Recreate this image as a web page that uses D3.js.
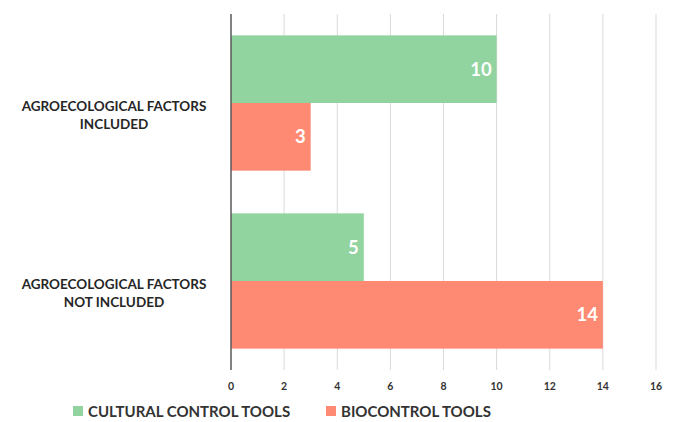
<!DOCTYPE html>
<html>
<head>
<meta charset="utf-8">
<script src="https://cdn.jsdelivr.net/npm/d3@7"></script>
<style>
  body { margin: 0; background: #fff; }
  svg text { font-family: Lato, "Open Sans", sans-serif; font-weight: bold; }
</style>
</head>
<body>
<svg id="chart" width="675" height="422"></svg>
<script>
//chart data
const categories = ["AGROECOLOGICAL FACTORS|INCLUDED", "AGROECOLOGICAL FACTORS|NOT INCLUDED"];
const seriesNames = ["CULTURAL CONTROL TOOLS", "BIOCONTROL TOOLS"];
const culturalValues = [10, 5];
const biocontrolValues = [3, 14];
const xTicks = [0, 2, 4, 6, 8, 10, 12, 14, 16];
const colors = ["#92d4a0", "#ff8a73"];

//plot area
const margin = { top: 14, right: 19, bottom: 52, left: 231 };
const width = 675 - margin.left - margin.right;
const height = 422 - margin.top - margin.bottom;

const svg = d3.select("#chart")
    .append("g")
    .attr("transform", `translate(${margin.left},${margin.top})`);

const x = d3.scaleLinear().domain([0, 16]).range([0, width]);
const y = d3.scaleBand().domain(categories).range([0, height]).paddingInner(0.24).paddingOuter(0.12);
const ySub = d3.scaleBand().domain(seriesNames).range([0, y.bandwidth()]);

//gridlines
svg.selectAll(".grid")
    .data(xTicks.slice(1))
    .join("line")
    .attr("x1", d => x(d)).attr("x2", d => x(d))
    .attr("y1", 0).attr("y2", height)
    .attr("stroke", "#d9d9d9")
    .attr("stroke-width", 1);

//bars
const rows = categories.map((c, i) => ({
    cat: c,
    vals: [culturalValues[i], biocontrolValues[i]]
}));

const groups = svg.selectAll(".grp")
    .data(rows)
    .join("g")
    .attr("transform", d => `translate(0,${y(d.cat)})`);

groups.selectAll("rect")
    .data(d => d.vals.map((v, j) => ({ name: seriesNames[j], v, j })))
    .join("rect")
    .attr("x", 0)
    .attr("y", d => ySub(d.name))
    .attr("width", d => x(d.v))
    .attr("height", ySub.bandwidth())
    .attr("fill", d => colors[d.j]);

groups.selectAll("text")
    .data(d => d.vals.map((v, j) => ({ name: seriesNames[j], v, j })))
    .join("text")
    .attr("x", d => x(d.v) - 5)
    .attr("y", d => ySub(d.name) + ySub.bandwidth() / 2)
    .attr("dy", "0.36em")
    .attr("text-anchor", "end")
    .attr("fill", "#fff")
    .style("font-size", "18.5px")
    .text(d => d.v);

//vertical axis line
svg.append("line")
    .attr("x1", 0).attr("x2", 0)
    .attr("y1", 0).attr("y2", height)
    .attr("stroke", "#595959")
    .attr("stroke-width", 1.5);

//x tick labels
svg.selectAll(".xt")
    .data(xTicks)
    .join("text")
    .attr("x", d => x(d))
    .attr("y", height + 20)
    .attr("text-anchor", "middle")
    .attr("fill", "#333")
    .style("font-size", "10.5px")
    .text(d => d);

//category labels
const catLabels = svg.selectAll(".cl")
    .data(categories)
    .join("text")
    .attr("text-anchor", "middle")
    .attr("fill", "#262626")
    .style("font-size", "13.5px");
catLabels.each(function(d) {
    const lines = d.split("|");
    const cy = y(d) + y.bandwidth() / 2;
    d3.select(this).selectAll("tspan")
        .data(lines)
        .join("tspan")
        .attr("x", -117)
        .attr("y", (l, i) => cy + 8 + i * 18);
    d3.select(this).selectAll("tspan").text(l => l);
});

//legend
const legend = d3.select("#chart").append("g");
const legendX = [73, 326];
seriesNames.forEach((name, i) => {
    legend.append("rect")
        .attr("x", legendX[i]).attr("y", 406)
        .attr("width", 10).attr("height", 10)
        .attr("fill", colors[i]);
    legend.append("text")
        .attr("x", legendX[i] + 15).attr("y", 416.5)
        .attr("fill", "#333")
        .style("font-size", "15px")
        .text(name);
});
</script>
</body>
</html>
